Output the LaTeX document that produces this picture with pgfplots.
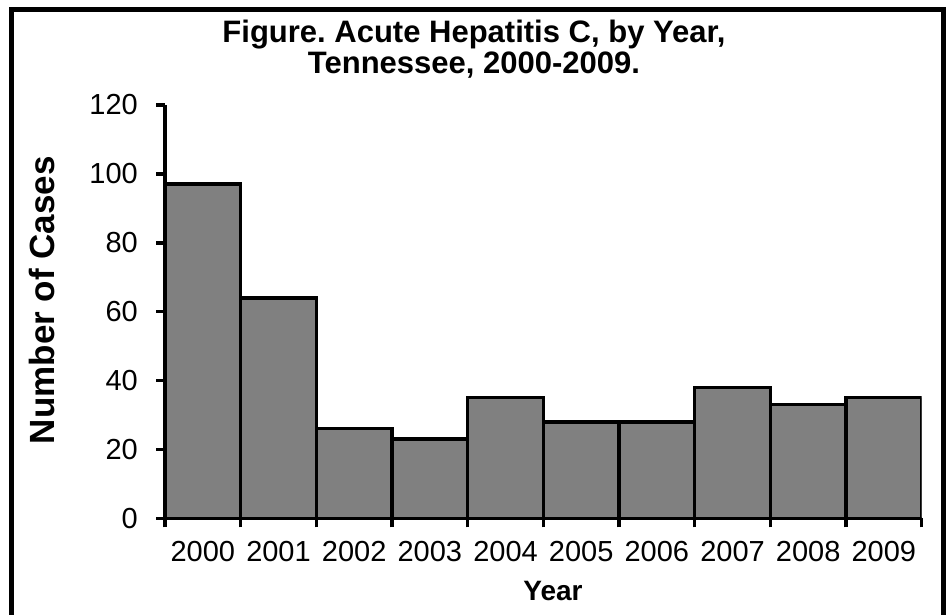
\documentclass[border=0pt]{standalone}
\usepackage{fontspec}
\setmainfont{Liberation Sans}
\usepackage{pgfplots}
\pgfplotsset{compat=1.18}

\definecolor{barfill}{HTML}{808080}

\newcommand{\tickfont}{\fontsize{29bp}{32bp}\selectfont}
\newcommand{\labelfont}{\fontsize{28bp}{32bp}\selectfont\bfseries}
\newcommand{\ylabfont}{\fontsize{35bp}{38bp}\selectfont\bfseries}
\newcommand{\titlefont}{\fontsize{31bp}{34bp}\selectfont\bfseries}

\begin{document}
\frenchspacing
\begin{tikzpicture}[x=1bp,y=1bp]
\useasboundingbox (0,0) rectangle (948,615);
% outer frame (bottom edge falls below the page)
\draw[line width=5bp] (11.5,-10) -- (11.5,605) -- (943.5,605) -- (943.5,-10);

% title
\node[font=\titlefont, anchor=base] at (474,572) {Figure. Acute Hepatitis C, by Year,};
\node[font=\titlefont, anchor=base] at (474,541) {Tennessee, 2000-2009.};

\begin{axis}[
  at={(165bp,96.7bp)}, anchor=south west,
  scale only axis, width=756.7bp, height=413.3bp,
  xmin=0, xmax=10, ymin=0, ymax=120,
  axis x line=bottom, axis y line=left,
  axis line style={-, line width=3.5bp, black},
  /pgf/number format/assume math mode=true,
  tick align=outside,
  major tick length=9bp,
  tick style={line width=3.5bp, black},
  xtick={0,...,10}, xticklabels={},
  extra x ticks={0.5,1.5,2.5,3.5,4.5,5.5,6.5,7.5,8.5,9.5},
  extra x tick labels={2000,2001,2002,2003,2004,2005,2006,2007,2008,2009},
  extra x tick style={major tick length=0pt,
    xticklabel style={font=\tickfont, inner sep=0pt, anchor=base, yshift=-43bp}},
  ytick={0,20,...,120},
  yticklabel style={font=\tickfont, inner sep=0pt, anchor=east, xshift=-18bp},
  xlabel={Year},
  ylabel={Number of Cases},
  every axis x label/.style={at={(axis description cs:0.5128,-0.2)}, anchor=base, font=\labelfont},
  every axis y label/.style={at={(axis description cs:-0.1625,0.528)}, rotate=90, anchor=center, font=\ylabfont},
]
\addplot[ybar, bar width=1, fill=barfill, draw=black, line width=3.5bp]
  coordinates {
    (0.5,97) (1.5,64) (2.5,26) (3.5,23) (4.5,35)
    (5.5,28) (6.5,28) (7.5,38) (8.5,33) (9.5,35)
  };
\end{axis}
\end{tikzpicture}
\end{document}
